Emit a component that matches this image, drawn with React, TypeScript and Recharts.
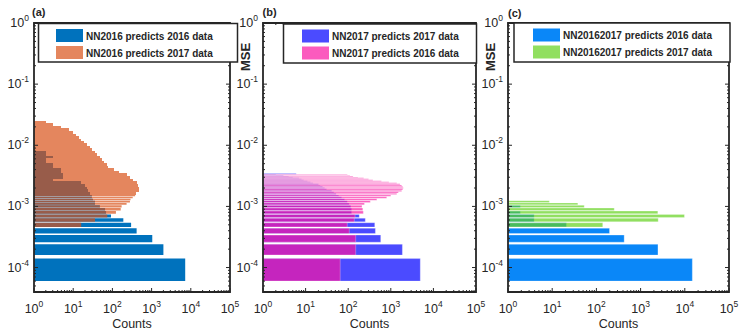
import React from "react";
import { ScatterChart, XAxis, YAxis, ReferenceArea } from "recharts";

// bin centres are in units of 1e-4 MSE
const UNIT = 1e-4;

// (a) NN2016
const mseBinsA = [1, 2, 3, 4, 5, 6, 7, 8, 9, 10, 11, 12, 13, 14, 15, 16, 18, 20, 22, 24.5, 27, 30, 33, 36.5, 40, 44, 48.5, 53, 58, 64, 70, 77, 85, 93, 102, 112, 123, 135, 148, 163, 180, 198, 218, 240, 265, 290, 320, 350, 385];
const nn2016On2016 = [7200, 2000, 1040, 415, 300, 190, 92, 69, 65, 48, 36, 36, 32, 30, 30, 27, 24, 22, 20, 16, 3, 5.5, 5.5, 5, 5, 3, 3, 2, 2, 3, 2, 2, 0, 0, 0, 0, 0, 0, 0, 0, 0, 0, 0, 0, 0, 0, 0, 0, 0];
const nn2016On2017 = [0, 0, 0, 0, 16, 36, 74, 123, 163, 172, 230, 280, 290, 330, 380, 400, 480, 480, 450, 415, 330, 280, 230, 150, 110, 79, 72, 62, 53, 48, 40, 35, 30, 27, 23, 19, 16, 14, 12, 10, 8, 5, 3, 2, 0, 0, 0, 0, 0];

// (b) NN2017
const mseBinsB = [1, 2, 3, 4, 5, 6, 7, 8, 9, 10, 11, 12, 13, 14, 15, 16, 17, 18, 19, 20, 21, 22, 23, 24, 25, 26, 27, 28, 29, 30, 31, 32, 33, 34];
const nn2017On2017 = [4920, 1870, 580, 435, 420, 252, 182, 120, 120, 115, 105, 95, 82, 70, 60, 52, 46, 41, 31, 28, 25, 22, 20, 15, 13, 11, 9, 8, 7, 5, 4, 3, 2, 6];
const nn2017On2016 = [65, 150, 150, 106, 95, 139, 145, 226, 220, 210, 240, 330, 470, 800, 1000, 1380, 1500, 1800, 1900, 1960, 1900, 1800, 1650, 1380, 900, 600, 380, 300, 230, 170, 130, 110, 95, 0];

// (c) NN20162017
const mseBinsC = [1, 2, 3, 4, 5, 6, 7, 8, 9, 10, 11, 12];
const nnBothOn2016 = [14800, 2470, 425, 198, 21, 3.9, 3.9, 1.9, 0, 1.9, 0, 0];
const nnBothOn2017 = [0, 0, 0, 0, 139, 2500, 9800, 2450, 253, 53, 38, 8.6];

const countMajor = [1, 10, 100, 1000, 10000, 100000];
const mseMajor = [1e-4, 1e-3, 1e-2, 1e-1, 1];

const Y_MIN = Math.pow(10, -4.4);
const FONT = '"Liberation Sans", Arial, Helvetica, sans-serif';
const INK = "#262626";
const CHART_H = 332;
const TOP = 23;
const X_AXIS_H = 40;
const PLOT_H = CHART_H - TOP - X_AXIS_H;

const countTicks = countMajor.flatMap((d, i) =>
  i === countMajor.length - 1 ? [d] : [1, 2, 3, 4, 5, 6, 7, 8, 9].map((m) => m * d)
);
const mseTicks = [1e-5, ...mseMajor.slice(0, -1)]
  .flatMap((d) => [1, 2, 3, 4, 5, 6, 7, 8, 9].map((m) => m * d))
  .concat([1])
  .filter((v) => v >= Y_MIN * 0.999 && v <= 1);

const isMajor = (v: number) => Math.abs(Math.log10(v) - Math.round(Math.log10(v))) < 1e-6;

type Series = { label: string; centres: number[]; counts: number[]; fill: string; opacity: number; edge: boolean };

function toBins(centres: number[], counts: number[]) {
  const n = centres.length;
  return centres
    .map((c, i) => {
      const prev = i > 0 ? centres[i - 1] : 2 * c - centres[1];
      const next = i < n - 1 ? centres[i + 1] : 2 * c - centres[n - 2];
      const merged = next - c > 1.01;
      // single 1e-4 bins: bar width 0.8; merged bins stand for many thin bars, drawn solid edge to edge
      const lo = merged ? (prev + c) / 2 : c - 0.4;
      const hi = merged ? (c + next) / 2 : c + 0.4;
      return { lo: lo * UNIT, hi: hi * UNIT, count: counts[i], merged };
    })
    .filter((b) => b.count > 1);
}

const seriesA: Series[] = [
  { label: "NN2016 predicts 2016 data", centres: mseBinsA, counts: nn2016On2016, fill: "#0072BD", opacity: 1, edge: false },
  { label: "NN2016 predicts 2017 data", centres: mseBinsA, counts: nn2016On2017, fill: "#D95319", opacity: 0.7, edge: false },
];
const seriesB: Series[] = [
  { label: "NN2017 predicts 2017 data", centres: mseBinsB, counts: nn2017On2017, fill: "#4B4BFF", opacity: 1, edge: true },
  { label: "NN2017 predicts 2016 data", centres: mseBinsB, counts: nn2017On2016, fill: "#F916A2", opacity: 0.7, edge: true },
];
const seriesC: Series[] = [
  { label: "NN20162017 predicts 2016 data", centres: mseBinsC, counts: nnBothOn2016, fill: "#0A87F8", opacity: 1, edge: true },
  { label: "NN20162017 predicts 2017 data", centres: mseBinsC, counts: nnBothOn2017, fill: "#62D21C", opacity: 0.7, edge: true },
];

const XTick = (props: any) => {
  const { x, y, payload } = props;
  const v = payload.value;
  const major = isMajor(v);
  const len = major ? 4 : 2;
  return (
    <g>
      <line x1={x} x2={x} y1={y} y2={y - len} stroke={INK} />
      <line x1={x} x2={x} y1={y - PLOT_H} y2={y - PLOT_H + len} stroke={INK} />
      {major && (
        <text x={x} y={y + 21} textAnchor="middle" fontSize={12.5} fill={INK} fontFamily={FONT}>
          10<tspan dy={-6} fontSize={8.5}>{Math.round(Math.log10(v))}</tspan>
        </text>
      )}
    </g>
  );
};

const makeYTick = (plotW: number) => (props: any) => {
  const { x, y, payload } = props;
  const v = payload.value;
  const major = isMajor(v);
  const len = major ? 4 : 2;
  return (
    <g>
      <line x1={x} x2={x + len} y1={y} y2={y} stroke={INK} />
      <line x1={x + plotW} x2={x + plotW - len} y1={y} y2={y} stroke={INK} />
      {major && (
        <text x={x - 5} y={y + 4} textAnchor="end" fontSize={12.5} fill={INK} fontFamily={FONT}>
          10<tspan dy={-6} fontSize={8.5}>{Math.round(Math.log10(v))}</tspan>
        </text>
      )}
    </g>
  );
};

function HistPanel({ left, width, axisW, right, series }: { left: number; width: number; axisW: number; right: number; series: Series[] }) {
  const plotW = width - axisW - right;
  return (
    <div style={{ position: "absolute", left, top: 0 }}>
      <ScatterChart width={width} height={CHART_H} margin={{ top: TOP, right, bottom: 0, left: 0 }}>
        <XAxis
          type="number"
          dataKey="count"
          scale="log"
          domain={[1, 100000]}
          allowDataOverflow
          ticks={countTicks}
          interval={0}
          tickLine={false}
          axisLine={false}
          tickSize={0}
          tickMargin={0}
          height={X_AXIS_H}
          tick={XTick}
        />
        <YAxis
          type="number"
          dataKey="mse"
          scale="log"
          domain={[Y_MIN, 1]}
          allowDataOverflow
          ticks={mseTicks}
          interval={0}
          tickLine={false}
          axisLine={false}
          tickSize={0}
          tickMargin={0}
          width={axisW}
          tick={makeYTick(plotW)}
        />
        {series.map((s) =>
          toBins(s.centres, s.counts).map((b, i) => (
            <ReferenceArea
              key={s.label + i}
              x1={1}
              x2={b.count}
              y1={b.lo}
              y2={b.hi}
              ifOverflow="visible"
              fill={s.fill}
              fillOpacity={s.opacity}
              stroke={s.edge ? "#ffffff" : "none"}
              strokeOpacity={0.45}
              strokeWidth={0.6}
              shapeRendering={b.merged ? "crispEdges" : "auto"}
            />
          ))
        )}
        <ReferenceArea x1={1} x2={100000} y1={Y_MIN} y2={1} ifOverflow="visible" fill="none" stroke={INK} strokeWidth={1.8} />
      </ScatterChart>
    </div>
  );
}

const legends = [
  { box: [38.5, 23.5, 199, 38.5], swX: 56, textX: 86, rows: [[29, 39.5], [46, 56.5]], series: seriesA },
  { box: [283.5, 24, 193, 39], swX: 302, textX: 332, rows: [[29.5, 40], [46.5, 57]], series: seriesB },
  { box: [514, 23, 216, 39], swX: 533, textX: 563, rows: [[28.5, 38.5], [45.5, 55.5]], series: seriesC },
];

function Overlay() {
  return (
    <svg width={747} height={332} style={{ position: "absolute", left: 0, top: 0, pointerEvents: "none" }} fontFamily={FONT}>
      {legends.map((lg, k) => (
        <g key={k}>
          <rect x={lg.box[0]} y={lg.box[1]} width={lg.box[2]} height={lg.box[3]} fill="#fff" stroke={INK} strokeWidth={1.5} />
          {lg.series.map((s, r) => (
            <g key={s.label}>
              <rect x={lg.swX} y={lg.rows[r][0]} width={27} height={13} fill={s.fill} fillOpacity={s.opacity} />
              <text x={lg.textX} y={lg.rows[r][1]} fontSize={10} fontWeight="bold" fill={INK}>
                {s.label}
              </text>
            </g>
          ))}
        </g>
      ))}
      <text x={32} y={16} fontSize={11} fontWeight="bold" fill={INK}>(a)</text>
      <text x={262.5} y={16} fontSize={11} fontWeight="bold" fill={INK}>(b)</text>
      <text x={508} y={16.5} fontSize={11} fontWeight="bold" fill={INK}>(c)</text>
      <text x={250} y={57} fontSize={13} fontWeight="bold" fill={INK} textAnchor="middle" transform="rotate(-90 250 57)">MSE</text>
      <text x={495} y={57} fontSize={13} fontWeight="bold" fill={INK} textAnchor="middle" transform="rotate(-90 495 57)">MSE</text>
      <text x={132} y={328} fontSize={12.5} fill={INK} textAnchor="middle">Counts</text>
      <text x={369.5} y={328} fontSize={12.5} fill={INK} textAnchor="middle">Counts</text>
      <text x={618.5} y={328} fontSize={12.5} fill={INK} textAnchor="middle">Counts</text>
    </svg>
  );
}

export default function App() {
  return (
    <div style={{ position: "absolute", left: 0, top: 0, width: 747, height: 332, background: "#fff", fontFamily: FONT }}>
      <HistPanel left={0} width={240} axisW={34} right={10} series={seriesA} />
      <HistPanel left={230} width={256} axisW={33} right={10} series={seriesB} />
      <HistPanel left={475} width={272} axisW={33} right={18} series={seriesC} />
      <Overlay />
    </div>
  );
}
